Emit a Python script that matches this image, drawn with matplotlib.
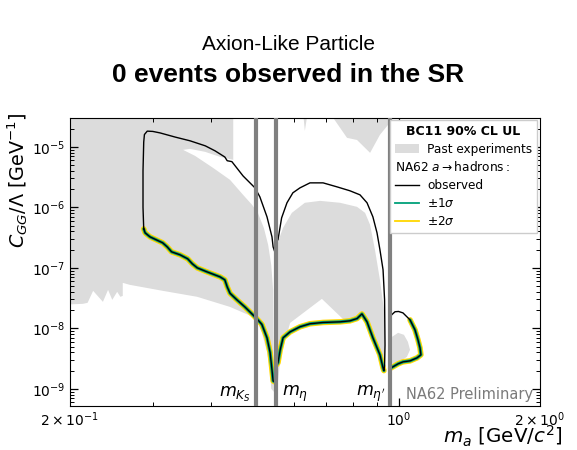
import numpy as np
import matplotlib
matplotlib.use("Agg")
import matplotlib.pyplot as plt
from matplotlib.patches import Patch
from matplotlib.lines import Line2D
from matplotlib.text import Text
from matplotlib.legend_handler import HandlerBase
from matplotlib.ticker import FuncFormatter

# meson masses [GeV/c^2] vetoed in the search
m_ks, m_eta, m_etap = 0.4976, 0.5479, 0.9578

# --- past experiments (BC11), union of excluded regions ---
past_left_x = [0.19, 0.445, 0.445, 0.417, 0.388, 0.360, 0.348, 0.369, 0.403, 0.438, 0.467,
               0.488, 0.502, 0.517, 0.528, 0.536, 0.541, 0.543, 0.536, 0.533, 0.525, 0.512,
               0.497, 0.490, 0.438, 0.373, 0.315, 0.268, 0.259, 0.259, 0.256, 0.252, 0.246,
               0.241, 0.235, 0.224, 0.218, 0.213, 0.19]
past_left_y = [4e-5, 4e-5, 6.1e-6, 6.84e-6, 8.26e-6, 9.27e-6, 8.92e-6, 7.10e-6, 4.50e-6, 2.85e-6, 1.61e-6,
               1.10e-6, 8.11e-7, 4.58e-7, 2.40e-7, 1.12e-7, 4.33e-8, 8.9e-10, 1.0e-9, 2.06e-9, 4.09e-9, 8.43e-9,
               1.49e-8, 1.55e-8, 2.26e-8, 3.32e-8, 4.17e-8, 5.24e-8, 5.65e-8, 3.44e-8, 3.32e-8, 4.01e-8, 2.96e-8,
               4.33e-8, 2.74e-8, 4.17e-8, 2.64e-8, 2.54e-8, 2.45e-8]

past_mid_x = [0.551, 0.568, 0.593, 0.632, 0.681, 0.751, 0.816, 0.849, 0.870, 0.891, 0.913, 0.931,
              0.936, 0.913, 0.878, 0.836, 0.777, 0.687, 0.588, 0.576, 0.562, 0.551]
past_mid_y = [2.40e-7, 4.58e-7, 8.11e-7, 1.19e-6, 1.28e-6, 1.19e-6, 1.02e-6, 8.11e-7, 5.14e-7, 1.99e-7, 6.33e-8, 2.02e-8,
              1.95e-9, 3.65e-9, 7.81e-9, 1.61e-8, 1.23e-8, 3.07e-8, 1.23e-8, 6.97e-9, 3.65e-9, 8.9e-10]

past_top1_x = [0.626, 0.642, 0.632]
past_top1_y = [4e-5, 4e-5, 1.84e-5]

past_top2_x = [0.708, 0.777, 0.816, 0.870, 0.913, 0.950, 0.969]
past_top2_y = [4e-5, 1.41e-5, 1.30e-5, 7.96e-6, 1.58e-5, 2.31e-5, 4e-5]

past_right_x = [0.969, 0.998, 1.027, 1.047, 1.058, 1.042, 1.007, 0.969]
past_right_y = [7.24e-9, 8.43e-9, 7.81e-9, 5.98e-9, 4.41e-9, 3.38e-9, 2.79e-9, 2.59e-9]

# --- NA62 observed 90% CL upper limit contour, three islands ---
obs1_up_x = [0.287, 0.286, 0.286, 0.287, 0.288, 0.292, 0.300, 0.311, 0.335, 0.360, 0.388,
             0.407, 0.427, 0.432, 0.442, 0.467, 0.495, 0.507, 0.525, 0.538, 0.541, 0.546]
obs1_up_y = [4.4e-7, 1.0e-6, 4.0e-6, 1.2e-5, 1.6e-5, 1.82e-5, 1.80e-5, 1.70e-5, 1.45e-5, 1.26e-5, 1.04e-5,
             8.6e-6, 6.8e-6, 5.9e-6, 5.7e-6, 3.3e-6, 2.1e-6, 1.49e-6, 6.97e-7, 3.25e-7, 2.22e-7, 1.8e-7]
obs1_lo_x = [0.287, 0.289, 0.296, 0.315, 0.322, 0.329, 0.343, 0.356, 0.364, 0.373, 0.391, 0.417,
             0.427, 0.432, 0.438, 0.453, 0.471, 0.490, 0.502, 0.512, 0.525, 0.533, 0.538, 0.541, 0.546]
obs1_lo_y = [4.4e-7, 3.79e-7, 3.25e-7, 2.59e-7, 2.22e-7, 1.84e-7, 1.64e-7, 1.41e-7, 1.17e-7, 1.0e-7, 8.6e-8, 7.1e-8,
             6.33e-8, 4.85e-8, 3.8e-8, 2.96e-8, 2.26e-8, 1.67e-8, 1.38e-8, 1.16e-8, 6.97e-9, 4.0e-9, 2.06e-9, 1.35e-9, 1.3e-9]

obs2_up_x = [0.550, 0.550, 0.554, 0.564, 0.579, 0.596, 0.617, 0.648, 0.691, 0.740, 0.788, 0.828,
             0.857, 0.882, 0.900, 0.913, 0.927, 0.934, 0.936, 0.934, 0.931]
obs2_up_y = [2.5e-9, 3.2e-7, 2.9e-7, 6.7e-7, 1.19e-6, 1.74e-6, 2.10e-6, 2.54e-6, 2.54e-6, 2.18e-6, 1.88e-6, 1.61e-6,
             1.19e-6, 6.97e-7, 3.79e-7, 1.99e-7, 9.3e-8, 3.0e-8, 5.3e-9, 2.4e-9, 2.0e-9]
obs2_lo_x = [0.550, 0.554, 0.560, 0.568, 0.588, 0.617, 0.648, 0.691, 0.751, 0.788, 0.816, 0.836,
             0.857, 0.882, 0.913, 0.927, 0.931]
obs2_lo_y = [2.5e-9, 2.7e-9, 4.4e-9, 6.97e-9, 8.75e-9, 1.06e-8, 1.19e-8, 1.25e-8, 1.28e-8, 1.33e-8, 1.45e-8, 1.73e-8,
             1.28e-8, 6.97e-9, 3.65e-9, 2.22e-9, 2.0e-9]

obs3_up_x = [0.962, 0.962, 0.969, 0.983, 1.000, 1.022, 1.058, 1.084, 1.100, 1.111, 1.116]
obs3_up_y = [2.2e-9, 1.6e-8, 1.7e-8, 1.88e-8, 1.9e-8, 1.80e-8, 1.38e-8, 9.44e-9, 6.46e-9, 4.76e-9, 3.65e-9]
obs3_lo_x = [0.962, 0.973, 0.998, 1.022, 1.058, 1.095, 1.116]
obs3_lo_y = [2.2e-9, 2.31e-9, 2.59e-9, 2.79e-9, 2.90e-9, 3.25e-9, 3.65e-9]

GRAY = "#dcdcdc"
GREEN = "#00a07a"
YELLOW = "#ffd700"


class TextRow:
    def __init__(self, text):
        self.text = text


class TextRowHandler(HandlerBase):
    # draws the row text where the handle would go
    def create_artists(self, legend, orig_handle, xdescent, ydescent,
                       width, height, fontsize, trans):
        t = Text(-xdescent, height / 2 - ydescent, orig_handle.text,
                 fontsize=fontsize, ha="left", va="center")
        t.set_transform(trans)
        return [t]


fig = plt.figure(figsize=(5.77, 4.5), dpi=100)
ax = fig.add_axes([70 / 577, 1 - 406 / 450, 470 / 577, 288 / 450])
ax.set_xscale("log")
ax.set_yscale("log")
ax.set_xlim(0.2, 2.0)
ax.set_ylim(5.2e-10, 3.0e-5)

for px, py in [(past_left_x, past_left_y), (past_mid_x, past_mid_y),
               (past_top1_x, past_top1_y), (past_top2_x, past_top2_y),
               (past_right_x, past_right_y)]:
    ax.fill(px, py, color=GRAY, lw=0, zorder=1)

islands = [(obs1_up_x, obs1_up_y, obs1_lo_x, obs1_lo_y, 0),
           (obs2_up_x, obs2_up_y, obs2_lo_x, obs2_lo_y, 0),
           (obs3_up_x, obs3_up_y, obs3_lo_x, obs3_lo_y, 6)]
for ux, uy, lx, ly, k in islands:
    # expected bands hug the lower edge of each island
    bx = list(lx) + list(ux[k:])[::-1] if k else list(lx)
    by = list(ly) + list(uy[k:])[::-1] if k else list(ly)
    ax.plot(bx, by, color=YELLOW, lw=4.0, solid_capstyle="round", solid_joinstyle="round", zorder=3)
    ax.plot(bx, by, color=GREEN, lw=2.3, solid_capstyle="round", solid_joinstyle="round", zorder=3.1)
    cx = list(ux) + list(lx)[::-1]
    cy = list(uy) + list(ly)[::-1]
    ax.plot(cx, cy, color="black", lw=1.0, zorder=4)

for m in (m_ks, m_eta, m_etap):
    ax.axvline(m, color="#808080", lw=3, zorder=4.5)

ax.annotate(r"$m_{K_S}$", (m_ks, 0.006), xycoords=("data", "axes fraction"),
            xytext=(-3.5, 0), textcoords="offset points", ha="right", va="bottom", fontsize=12.5)
ax.annotate(r"$m_{\eta}$", (m_eta, 0.006), xycoords=("data", "axes fraction"),
            xytext=(4.5, 0), textcoords="offset points", ha="left", va="bottom", fontsize=12.5)
ax.annotate(r"$m_{\eta'}$", (m_etap, 0.006), xycoords=("data", "axes fraction"),
            xytext=(-3, 0), textcoords="offset points", ha="right", va="bottom", fontsize=12.5)
ax.text(0.985, 0.015, "NA62 Preliminary", transform=ax.transAxes, ha="right",
        va="bottom", fontsize=10.5, color="#7a7a7a", zorder=6)

ax.tick_params(which="both", direction="in", top=True, right=True, labelsize=10)
ax.tick_params(which="major", length=5.5, width=0.9)
ax.tick_params(which="minor", length=3.2, width=0.7)


def minor_label(v, pos):
    if np.isclose(v, 0.2):
        return r"$2\times10^{-1}$"
    if np.isclose(v, 2.0):
        return r"$2\times10^{0}$"
    return ""


ax.xaxis.set_minor_formatter(FuncFormatter(minor_label))

ax.set_xlabel(r"$m_a$ [GeV/$c^2$]", fontsize=14.3, ha="right")
ax.xaxis.set_label_coords(1.049, -0.062)
ax.set_ylabel(r"$C_{GG}/\Lambda$ [GeV$^{-1}$]", fontsize=13.8, ha="right")
ax.yaxis.set_label_coords(-0.085, 1.02)

handles = [Patch(facecolor=GRAY, edgecolor="none"),
           TextRow(r"NA62 $a\rightarrow\mathrm{hadrons}:$"),
           Line2D([], [], color="black", lw=1.0),
           Line2D([], [], color=GREEN, lw=1.3),
           Line2D([], [], color=YELLOW, lw=1.3)]
labels = ["Past experiments", " ", "observed", r"$\pm1\sigma$", r"$\pm2\sigma$"]
leg = ax.legend(handles, labels, handler_map={TextRow: TextRowHandler()},
                loc="upper right", bbox_to_anchor=(0.994, 0.993), borderaxespad=0,
                fontsize=8.7, title="BC11 90% CL UL",
                title_fontproperties={"weight": "bold", "size": 9},
                fancybox=False, framealpha=1, edgecolor="#cccccc",
                handlelength=2.0, handletextpad=0.7, labelspacing=0.42, borderpad=0.4)
leg.set_zorder(10)

fig.text(0.5, 1 - 45 / 450, "Axion-Like Particle", ha="center", va="center",
         fontsize=15, family="Liberation Sans")
fig.text(0.5, 1 - 75 / 450, "0 events observed in the SR", ha="center", va="center",
         fontsize=19, fontweight="bold", family="Liberation Sans")

fig.savefig("out.png", dpi=100)
